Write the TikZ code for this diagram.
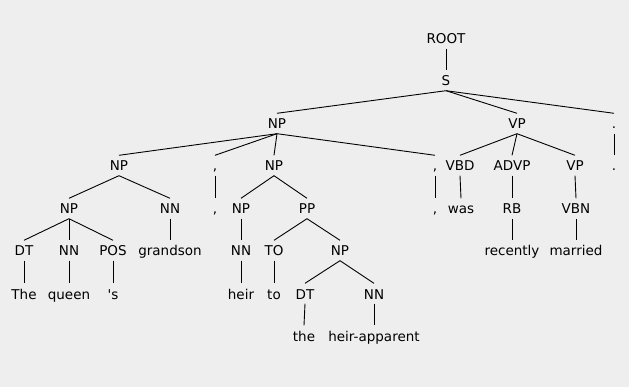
\documentclass[tikz,border=0pt]{standalone}
\usepackage{fontspec}
\newfontfamily\treefont{DejaVu Sans}
\definecolor{canvas}{RGB}{238,238,238}
\begin{document}
\begin{tikzpicture}[x=1pt,y=-1pt,
  lbl/.style={anchor=base,inner sep=0pt,text height=15.5pt,text depth=4.5pt,
              font=\treefont\fontsize{13.5}{16}\selectfont},
  edge/.style={line width=0.9pt,black}]
\fill[canvas] (0,0) rectangle (629,387);
\useasboundingbox (0,0) rectangle (629,387);

% level 0-1
\node[lbl] (root) at (446,44) {ROOT};
\node[lbl] (s) at (446,86) {S};
% level 2
\node[lbl] (np1) at (277,129) {NP};
\node[lbl] (vp1) at (517,129) {VP};
\node[lbl] (pd1) at (614,129) {.};
% level 3
\node[lbl] (np2) at (119,171) {NP};
\node[lbl] (cm1) at (215,171) {,};
\node[lbl] (np3) at (274,171) {NP};
\node[lbl] (cm2) at (435,171) {,};
\node[lbl] (vbd) at (460,171) {VBD};
\node[lbl] (advp) at (512,171) {ADVP};
\node[lbl] (vp2) at (575,171) {VP};
\node[lbl] (pd2) at (614,171) {.};
% level 4
\node[lbl] (np4) at (69,214) {NP};
\node[lbl] (nn1) at (170,214) {NN};
\node[lbl] (cw1) at (215,214) {,};
\node[lbl] (np5) at (241,214) {NP};
\node[lbl] (pp) at (307,214) {PP};
\node[lbl] (cw2) at (435,214) {,};
\node[lbl] (was) at (461,214) {was};
\node[lbl] (rb) at (512,214) {RB};
\node[lbl] (vbn) at (576,214) {VBN};
% level 5
\node[lbl] (dt1) at (24,256) {DT};
\node[lbl] (nn2) at (69,256) {NN};
\node[lbl] (pos) at (113,256) {POS};
\node[lbl] (grandson) at (170,256) {grandson};
\node[lbl] (nn3) at (241,256) {NN};
\node[lbl] (to1) at (274,256) {TO};
\node[lbl] (np6) at (340,256) {NP};
\node[lbl] (recently) at (512,256) {recently};
\node[lbl] (married) at (576,256) {married};
% level 6
\node[lbl] (the1) at (24,299) {The};
\node[lbl] (queen) at (69,299) {queen};
\node[lbl] (poss) at (113,299) {\textquotesingle s};
\node[lbl] (heir) at (241,299) {heir};
\node[lbl] (to2) at (274,299) {to};
\node[lbl] (dt2) at (305,299) {DT};
\node[lbl] (nn4) at (374,299) {NN};
% level 7
\node[lbl] (the2) at (304,341) {the};
\node[lbl] (apparent) at (374,341) {heir-apparent};

% branches
\foreach \p/\c in {root/s, s/np1, s/vp1, s/pd1,
    np1/np2, np1/cm1, np1/np3, np1/cm2,
    vp1/vbd, vp1/advp, vp1/vp2, pd1/pd2,
    np2/np4, np2/nn1, cm1/cw1, np3/np5, np3/pp, cm2/cw2,
    vbd/was, advp/rb, vp2/vbn,
    np4/dt1, np4/nn2, np4/pos, nn1/grandson, np5/nn3, pp/to1, pp/np6,
    rb/recently, vbn/married,
    dt1/the1, nn2/queen, pos/poss, nn3/heir, to1/to2, np6/dt2, np6/nn4,
    dt2/the2, nn4/apparent}
  \draw[edge] (\p.south) -- (\c.north);
\end{tikzpicture}
\end{document}
